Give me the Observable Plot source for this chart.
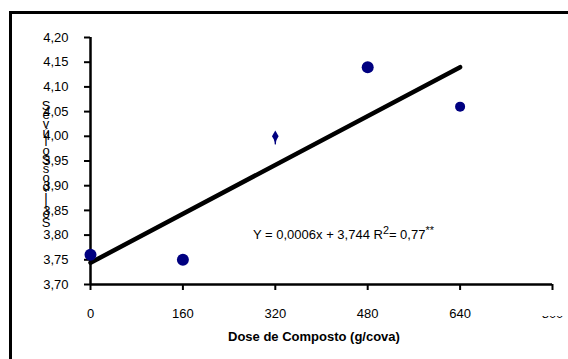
<!DOCTYPE html>
<html>
<head>
<meta charset="utf-8">
<script src="https://cdn.jsdelivr.net/npm/d3@7"></script>
<script src="https://cdn.jsdelivr.net/npm/@observablehq/plot@0.6"></script>
<style>
  html, body { margin: 0; padding: 0; background: #fff; }
  #wrap { position: relative; width: 568px; height: 359px; overflow: hidden; font-family: "Liberation Sans", Arial, sans-serif; }
  #frame { position: absolute; left: 9px; top: 11px; width: 600px; height: 400px; border-left: 3px solid #000; border-top: 3px solid #000; }
  #chart { position: absolute; left: 0; top: 0; }
  #chart svg text { font-size: 13px; }
  .txt { position: absolute; white-space: nowrap; color: #000; font-size: 13px; }
  #ylab { position: absolute; left: 38px; top: 101px; width: 16px; text-align: center; font-size: 13px; line-height: 9px; color: #000; }
  #mask { position: absolute; left: 538px; top: 298px; width: 30px; height: 18px; background: #fff; }
</style>
</head>
<body>
<div id="wrap">
  <div id="frame"></div>
  <div id="chart"></div>
  <div id="mask"></div>
  <div id="ylab"></div>
  <div class="txt" id="xlab" style="left:228px; top:329px; font-weight:bold;"></div>
  <div class="txt" id="eq" style="left:253px; top:224px;"></div>
</div>
<script>
// Data
const doses = [0, 160, 320, 480, 640];
const values = [3.76, 3.75, 4.00, 4.14, 4.06];
const regX = [0, 640];
const regY = [3.744, 4.14];
const xTicks = [0, 160, 320, 480, 640, 800];
const yTicks = [3.70, 3.75, 3.80, 3.85, 3.90, 3.95, 4.00, 4.05, 4.10, 4.15, 4.20];
const xTitle = "Dose de Composto (g/cova)";
const yTitleLetters = ["S","é","v","ú","l","o","S","s","o","d","i","l","ó","S"];
const eqText = "Y = 0,0006x + 3,744 R<sup>2</sup>= 0,77<sup>**</sup>";

const pts = doses.map((d, i) => ({x: d, y: values[i], i}));
const reg = regX.map((d, i) => ({x: d, y: regY[i]}));
const fmtY = d => d3.format(".2f")(d).replace(".", ",");

const chart = Plot.plot({
  width: 568,
  height: 359,
  marginLeft: 90,
  marginRight: 16,
  marginTop: 37,
  marginBottom: 75,
  style: {fontFamily: '"Liberation Sans", Arial, sans-serif', fontSize: "13px", background: "transparent", color: "#000"},
  x: {type: "linear", domain: [0, 800], label: null},
  y: {type: "linear", domain: [3.70, 4.20], label: null},
  marks: [
    Plot.axisX(xTicks, {tickSize: 6, tickPadding: 18, strokeWidth: 2, fontSize: 13, label: null, tickFormat: d => String(d)}),
    Plot.axisY(yTicks, {tickSize: 6, tickPadding: 16, strokeWidth: 2, fontSize: 13, label: null, tickFormat: fmtY}),
    Plot.ruleY([3.70], {stroke: "#000", strokeWidth: 2.5}),
    Plot.ruleX([0], {y1: 3.70, y2: 4.20, stroke: "#000", strokeWidth: 2.5}),
    Plot.line(reg, {x: "x", y: "y", stroke: "#000", strokeWidth: 4.5}),
    Plot.dot(pts.filter(p => p.i !== 2 && p.i !== 4), {x: "x", y: "y", r: 6, fill: "#000080", stroke: "none"}),
    Plot.dot(pts.filter(p => p.i === 2), {x: "x", y: "y", r: 3.5, fill: "#000080", stroke: "none", symbol: "diamond"}),
    Plot.vector(pts.filter(p => p.i === 2), {x: "x", y: "y", length: 8, rotate: 180, anchor: "start", shape: "spike", r: 1, fill: "#000080", stroke: "#000080", strokeWidth: 1}),
    Plot.dot(pts.filter(p => p.i === 4), {x: "x", y: "y", r: 5, fill: "#000080", stroke: "none"})
  ]
});
document.getElementById("chart").appendChild(chart);
document.getElementById("xlab").textContent = xTitle;
document.getElementById("eq").innerHTML = eqText;
document.getElementById("ylab").innerHTML = yTitleLetters.join("<br>");
</script>
</body>
</html>
